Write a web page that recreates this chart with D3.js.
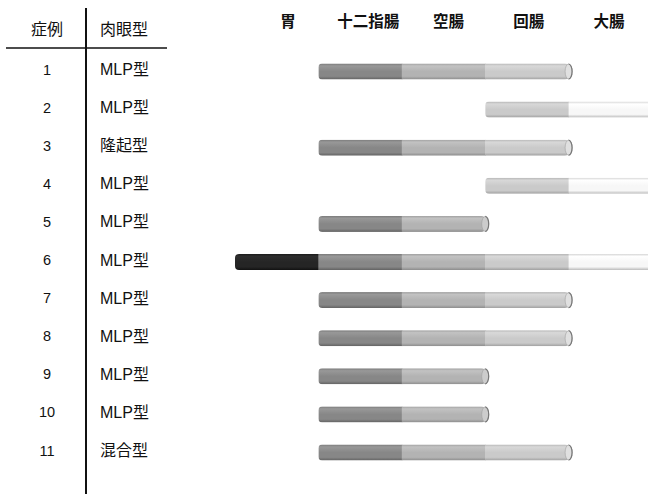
<!DOCTYPE html>
<html><head><meta charset="utf-8">
<script src="https://cdn.jsdelivr.net/npm/d3@7"></script>
<style>
html,body{margin:0;padding:0;background:#fff;}
svg{display:block;}
text{font-family:"Liberation Sans","Noto Sans CJK JP",sans-serif;fill:#111;}
</style></head>
<body>
<svg id="chart" width="648" height="494"></svg>
<script>
// ---- data ----
const organs = ["胃", "十二指腸", "空腸", "回腸", "大腸"];
const cases = ["1","2","3","4","5","6","7","8","9","10","11"];
const types = ["MLP型","MLP型","隆起型","MLP型","MLP型","MLP型","MLP型","MLP型","MLP型","MLP型","混合型"];
// extent of lesion: first and last involved organ
const startOrgan = ["十二指腸","回腸","十二指腸","回腸","十二指腸","胃","十二指腸","十二指腸","十二指腸","十二指腸","十二指腸"];
const endOrgan   = ["回腸","大腸","回腸","大腸","空腸","大腸","回腸","回腸","空腸","空腸","回腸"];
const headers = ["症例", "肉眼型"];

// ---- layout ----
const svg = d3.select("#chart");
const W = 648, H = 494;

const x = d3.scaleBand().domain(organs).range([235, 652]).paddingInner(0).paddingOuter(0);
const xLabel = d3.scalePoint().domain(organs).range([288, 609]);
const y = d3.scalePoint().domain(cases).range([71.5, 452.5]);
const barH = 16;

// gradients per organ (top edge, highlight, body, bottom edge)
const palette = {
  "胃":     ["#1c1c1c", "#2e2e2e", "#252525", "#111111"],
  "十二指腸": ["#7a7a7a", "#989898", "#878787", "#626262"],
  "空腸":   ["#a0a0a0", "#c2c2c2", "#b3b3b3", "#8c8c8c"],
  "回腸":   ["#b6b6b6", "#d8d8d8", "#cacaca", "#a0a0a0"],
  "大腸":   ["#d6d6d6", "#ffffff", "#f7f7f7", "#bbbbbb"]
};
const defs = svg.append("defs");
organs.forEach((o, i) => {
  const g = defs.append("linearGradient").attr("id", "g" + i)
    .attr("x1", 0).attr("y1", 0).attr("x2", 0).attr("y2", 1);
  const c = palette[o];
  g.append("stop").attr("offset", "0%").attr("stop-color", c[0]);
  g.append("stop").attr("offset", "15%").attr("stop-color", c[1]);
  g.append("stop").attr("offset", "50%").attr("stop-color", c[2]);
  g.append("stop").attr("offset", "80%").attr("stop-color", c[2]);
  g.append("stop").attr("offset", "100%").attr("stop-color", c[3]);
});

// ---- table ----
svg.append("line").attr("x1", 86).attr("x2", 86).attr("y1", 8).attr("y2", H)
  .attr("stroke", "#111").attr("stroke-width", 2);
svg.append("line").attr("x1", 6).attr("x2", 167).attr("y1", 48).attr("y2", 48)
  .attr("stroke", "#111").attr("stroke-width", 1.6);

svg.append("text").attr("x", 47).attr("y", 29).attr("text-anchor", "middle")
  .attr("dominant-baseline", "central").style("font-size", "16px").text(headers[0]);
svg.append("text").attr("x", 100).attr("y", 29).attr("text-anchor", "start")
  .attr("dominant-baseline", "central").style("font-size", "16px").text(headers[1]);

svg.selectAll("text.num").data(cases).join("text").attr("class", "num")
  .attr("x", 47).attr("y", d => y(d) - 2).attr("text-anchor", "middle")
  .attr("dominant-baseline", "central").style("font-size", "14.5px").text(d => d);
svg.selectAll("text.type").data(types).join("text").attr("class", "type")
  .attr("x", 100).attr("y", (d, i) => y(cases[i]) - 2).attr("text-anchor", "start")
  .attr("dominant-baseline", "central").style("font-size", "16px").text(d => d);

// ---- organ header ----
svg.selectAll("text.org").data(organs).join("text").attr("class", "org")
  .attr("x", d => xLabel(d)).attr("y", 20).attr("text-anchor", "middle")
  .attr("dominant-baseline", "central").style("font-size", "15.5px")
  .style("font-weight", "bold").style("font-family", "'Noto Sans CJK JP',sans-serif")
  .text(d => d);

// ---- bars ----
const capFills = ["#3a3a3a", "#b0b0b0", "#cccccc", "#e0e0e0", "#ffffff"];
cases.forEach((c, i) => {
  const s = organs.indexOf(startOrgan[i]);
  const e = organs.indexOf(endOrgan[i]);
  const segs = organs.slice(s, e + 1);
  const x0 = x(organs[s]);
  const x1 = x(organs[e]) + x.bandwidth();
  const yc = y(c);
  const top = yc - barH / 2;
  const clipId = "clip" + i;
  defs.append("clipPath").attr("id", clipId).append("rect")
    .attr("x", x0).attr("y", top).attr("width", x1 - x0).attr("height", barH)
    .attr("rx", 4).attr("ry", 4);
  const g = svg.append("g").attr("clip-path", "url(#" + clipId + ")");
  g.selectAll("rect").data(segs).join("rect")
    .attr("x", d => x(d)).attr("y", top)
    .attr("width", x.bandwidth() + 0.5).attr("height", barH)
    .attr("fill", d => "url(#g" + organs.indexOf(d) + ")");
  // cylinder end cap
  const rx = 3.5, ry = barH / 2 - 0.5;
  svg.append("ellipse").attr("cx", x1).attr("cy", yc).attr("rx", rx).attr("ry", ry)
    .attr("fill", capFills[e]).attr("stroke", "#a0a0a0").attr("stroke-width", 0.6);
  svg.append("path")
    .attr("d", `M${x1},${yc - ry} A${rx},${ry} 0 0 1 ${x1},${yc + ry}`)
    .attr("fill", "none").attr("stroke", "#777").attr("stroke-width", 1.2);
});
</script>
</body></html>
